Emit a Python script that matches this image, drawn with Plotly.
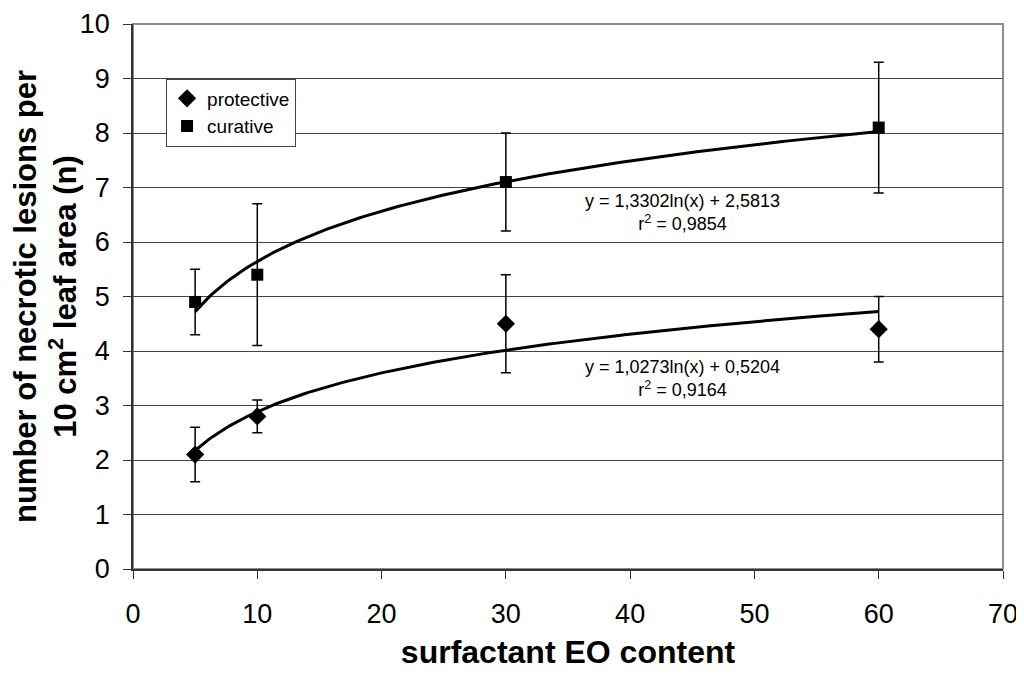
import numpy as np
import plotly.graph_objects as go

# ---- data ----
eo_content = [5, 10, 30, 60]

protective = [2.1, 2.8, 4.5, 4.4]
protective_low = [1.6, 2.5, 3.6, 3.8]
protective_high = [2.6, 3.1, 5.4, 5.0]

curative = [4.9, 5.4, 7.1, 8.1]
curative_low = [4.3, 4.1, 6.2, 6.9]
curative_high = [5.5, 6.7, 8.0, 9.3]

# logarithmic trendline coefficients (as printed on the chart)
prot_fit = (1.0273, 0.5204)
cur_fit = (1.3302, 2.5813)
prot_label = ["y = 1,0273ln(x) + 0,5204", "r<sup>2</sup> = 0,9164"]
cur_label = ["y = 1,3302ln(x) + 2,5813", "r<sup>2</sup> = 0,9854"]

x_ticks = [0, 10, 20, 30, 40, 50, 60, 70]
y_ticks = list(range(0, 11))

FONT = "Liberation Sans, Arial, Helvetica, sans-serif"

fig = go.Figure()

# trendlines
xs = np.linspace(min(eo_content), max(eo_content), 200)
for (a, b) in (cur_fit, prot_fit):
    fig.add_trace(go.Scatter(
        x=xs, y=a * np.log(xs) + b, mode="lines",
        line=dict(color="black", width=3), showlegend=False, hoverinfo="skip"))

def err(vals, lo, hi):
    plus = [h - v for v, h in zip(vals, hi)]
    minus = [v - l for v, l in zip(vals, lo)]
    return dict(type="data", symmetric=False, array=plus, arrayminus=minus,
                color="black", thickness=1.5, width=5)

fig.add_trace(go.Scatter(
    x=eo_content, y=protective, mode="markers", name="protective",
    marker=dict(symbol="diamond", size=14, color="black"),
    error_y=err(protective, protective_low, protective_high)))
fig.add_trace(go.Scatter(
    x=eo_content, y=curative, mode="markers", name="curative",
    marker=dict(symbol="square", size=12, color="black"),
    error_y=err(curative, curative_low, curative_high)))

# equation annotations
for lbl, yy in ((cur_label, 6.55), (prot_label, 3.5)):
    fig.add_annotation(x=44.25, y=yy, xref="x", yref="y",
                       text=lbl[0] + "<br>" + lbl[1], showarrow=False,
                       font=dict(family=FONT, size=18, color="black"),
                       align="center")

# plot frame (top/right grey border)
fig.add_shape(type="rect", xref="paper", yref="paper", x0=0, y0=0, x1=1, y1=1,
              line=dict(color="#8c8c8c", width=2), layer="below")

fig.update_layout(
    width=1024, height=675,
    margin=dict(l=125, r=29, t=16, b=114),
    paper_bgcolor="white", plot_bgcolor="white",
    font=dict(family=FONT, color="black"),
    legend=dict(x=0.038, y=0.9, xanchor="left", yanchor="top",
                bordercolor="#444", borderwidth=1, bgcolor="white",
                font=dict(family=FONT, size=19), itemwidth=30,
                tracegroupgap=0),
    xaxis=dict(range=[0, 70], tickvals=x_ticks, showgrid=False,
               showline=True, linecolor="#333", linewidth=1.5,
               ticks="outside", ticklen=8, tickcolor="#333",
               ticklabelstandoff=12, automargin=False,
               tickfont=dict(size=27, family=FONT), zeroline=False,
               title=dict(text="<b>surfactant EO content</b>",
                          font=dict(size=32, family=FONT), standoff=12)),
    yaxis=dict(range=[0, 10], tickvals=y_ticks, showgrid=True,
               gridcolor="#444", gridwidth=1,
               showline=True, linecolor="#333", linewidth=1.5,
               ticks="outside", ticklen=8, tickcolor="#333",
               ticklabelstandoff=8, automargin=False,
               tickfont=dict(size=27, family=FONT), zeroline=False,
               title=dict(text="<b>number of necrotic lesions per<br>10 cm<sup>2</sup> leaf area (n)</b>",
                          font=dict(size=31, family=FONT), standoff=4)),
)

fig.write_html("out.html")
